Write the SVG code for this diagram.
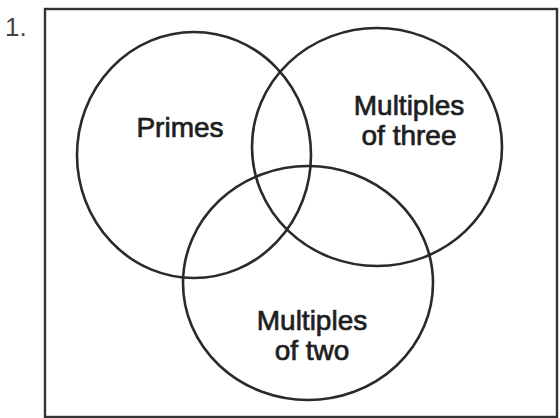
<svg xmlns="http://www.w3.org/2000/svg" width="560" height="418" viewBox="0 0 560 418">
<style>
.c{fill:none;stroke:#2a2a2a;stroke-width:2.6}
.t{font-family:"Liberation Sans",Arial,sans-serif;font-size:28px;fill:#1e1e1e;stroke:#1e1e1e;stroke-width:0.7;text-anchor:middle}
</style>
<rect width="560" height="418" fill="#fff"/>
<text x="5" y="36" style="font-family:'Liberation Sans',Arial,sans-serif;font-size:26px;fill:#444">1.</text>
<rect id="frame" x="45" y="9" width="512" height="408" fill="none" stroke="#333" stroke-width="2.4"/>
<g id="primes">
<ellipse class="c" cx="194" cy="155" rx="117" ry="123"/>
<text class="t" x="180" y="137">Primes</text>
</g>
<g id="three">
<ellipse class="c" cx="377" cy="147" rx="125" ry="119"/>
<text class="t" x="409" y="115">Multiples</text>
<text class="t" x="409" y="145">of three</text>
</g>
<g id="two">
<ellipse class="c" cx="308" cy="283" rx="125" ry="117"/>
<text class="t" x="312" y="330">Multiples</text>
<text class="t" x="312" y="360">of two</text>
</g>
<g id="connectors"></g>
</svg>
